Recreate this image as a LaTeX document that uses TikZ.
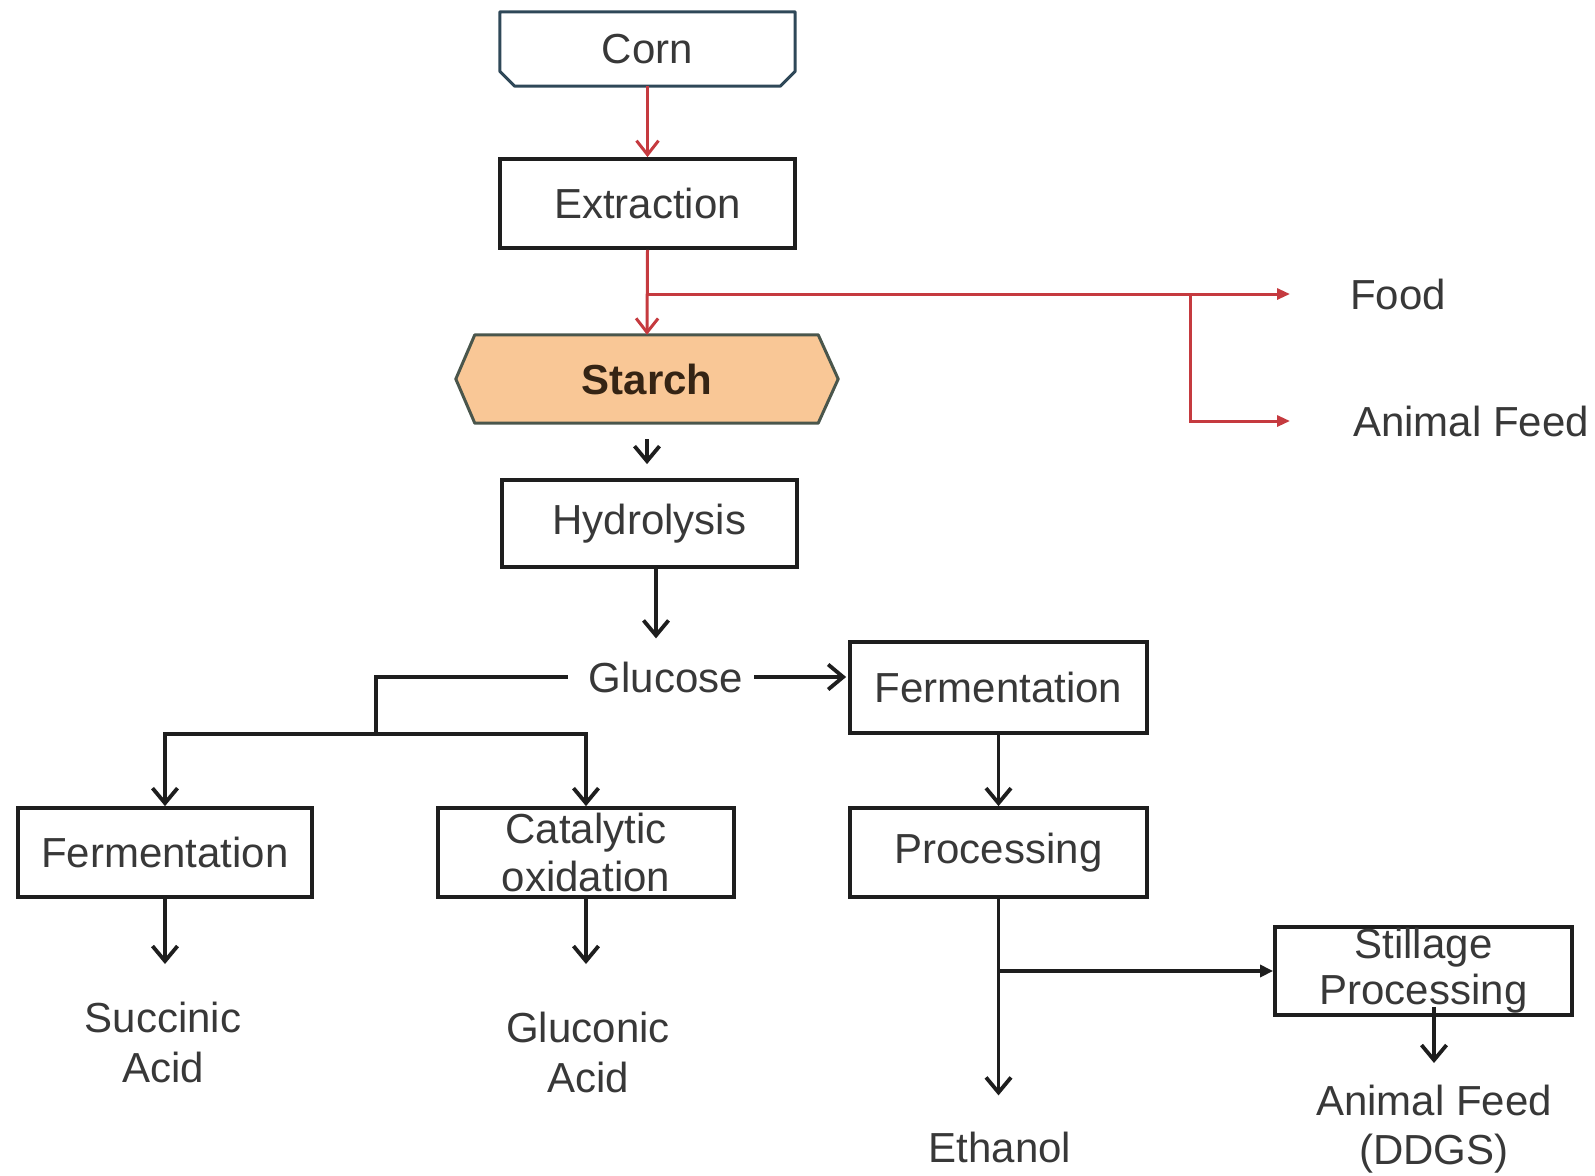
\documentclass[tikz,border=0pt]{standalone}
\usepackage{fontspec}
\setmainfont{Liberation Sans}
\usetikzlibrary{arrows.meta,calc,backgrounds}
\definecolor{ink}{HTML}{383838}
\definecolor{boxline}{HTML}{1E1E1E}
\definecolor{redline}{HTML}{C53A3F}
\definecolor{cornline}{HTML}{2F4858}
\definecolor{starchfill}{HTML}{F9C796}
\definecolor{starchline}{HTML}{4A564C}
\definecolor{starchink}{HTML}{352414}
\begin{document}
\begin{tikzpicture}[x=1pt,y=-1pt,
  every node/.style={font=\fontsize{42}{50}\selectfont, text=ink, inner sep=0pt},
  box/.style={draw=boxline, line width=3.8pt, minimum width=295pt, minimum height=89pt, align=center},
  lbl/.style={align=center},
  ln/.style={draw=boxline, line width=3.8pt},
  arr/.style={ln, -{Straight Barb[length=15pt,width=25pt]}},
  tri/.style={ln, -{Triangle[length=13pt,width=12pt]}},
  rln/.style={draw=redline, line width=3pt},
  rarr/.style={rln, -{Straight Barb[length=14pt,width=22pt]}},
  rtri/.style={rln, -{Triangle[length=13pt,width=11pt]}},
]
\useasboundingbox (0,0) rectangle (1595,1175);

% upper chain
\node[minimum width=295pt, minimum height=74pt] (corn) at (647.5,49) {Corn};
\draw[cornline, line width=3pt, line join=round]
  (corn.north west) -- (corn.north east) -- ([yshift=15pt]corn.south east)
  -- ([xshift=-15pt]corn.south east) -- ([xshift=15pt]corn.south west)
  -- ([yshift=15pt]corn.south west) -- cycle;
\node[box] (ext) at (647.5,203.5) {Extraction};
\node[minimum width=382pt, minimum height=88pt, text=starchink,
      font=\bfseries\fontsize{42}{50}\selectfont] (starch) at (647,379) {Starch};
\begin{scope}[on background layer]
  \draw[fill=starchfill, draw=starchline, line width=3pt, line join=round]
    (starch.west) -- ([xshift=19pt]starch.north west) -- ([xshift=-20pt]starch.north east)
    -- (starch.east) -- ([xshift=-20pt]starch.south east) -- ([xshift=19pt]starch.south west) -- cycle;
\end{scope}
\node[box, minimum height=87pt] (hyd) at (649.5,523.5) {Hydrolysis};
\node (glu) at (666,677) {Glucose};

% side products of extraction
\node[anchor=west] (food) at (1350,294) {Food};
\node[anchor=west] (afeed) at (1353,421) {Animal Feed};

% glucose routes
\node[box, minimum width=294pt] (ferm1) at (165,852.5) {Fermentation};
\node[box, minimum width=296pt, font=\fontsize{42}{48}\selectfont] (cat) at (586,852.5) {Catalytic\\oxidation};
\node[box, minimum width=297pt, minimum height=91pt] (ferm2) at (998.5,687.5) {Fermentation};
\node[box, minimum width=297pt] (proc) at (998.5,852.5) {Processing};
\node[box, minimum width=297pt, minimum height=88pt, font=\fontsize{42}{46}\selectfont] (still) at (1423.5,971) {Stillage\\Processing};

% products
\node[lbl, anchor=north] (succ) at (163,1002) {Succinic\\Acid};
\node[lbl, anchor=north] (glc) at (588,1012) {Gluconic\\Acid};
\node (eth) at (1000,1147) {Ethanol};
\node[lbl, anchor=north, font=\fontsize{42}{49}\selectfont] (ddgs) at (1434,1085) {Animal Feed\\(DDGS)};

% red connectors
\draw[rarr] (corn.south) -- (ext.north);
\draw[rarr] (ext.south) -- (starch.north);
\draw[rtri, shorten >=60pt] (ext.south |- food.west) -- (food.west);
\coordinate (rfork) at (1190,294);
\draw[rtri, shorten >=63pt] (rfork) |- (afeed.west);

% black connectors
\draw[arr, shorten <=16pt, shorten >=14pt] (starch.south) -- (starch.south |- hyd.north);
\draw[arr, shorten >=23pt] ([xshift=6.5pt]hyd.south) -- ([xshift=-10pt]glu.north);
\coordinate (split) at (376,734);
\draw[ln, shorten <=21pt] (glu.west) -| (split);
\draw[arr] (split) -| (ferm1.north);
\draw[arr] (split) -| (cat.north);
\draw[arr, shorten <=11pt, shorten >=2pt] (glu.east) -- (glu.east -| ferm2.west);
\draw[arr] (ferm2.south) -- (proc.north);
\draw[arr, shorten >=36pt] (proc.south) -- (proc.south |- eth.north);
\draw[tri] (proc.south |- still.west) -- (still.west);
\draw[arr, shorten >=38pt] (ferm1.south) -- (ferm1.south |- succ.north);
\draw[arr, shorten >=48pt] (cat.south) -- (cat.south |- glc.north);
\draw[arr, shorten <=-10pt, shorten >=22pt] (ddgs.north |- still.south) -- (ddgs.north);
\end{tikzpicture}
\end{document}
